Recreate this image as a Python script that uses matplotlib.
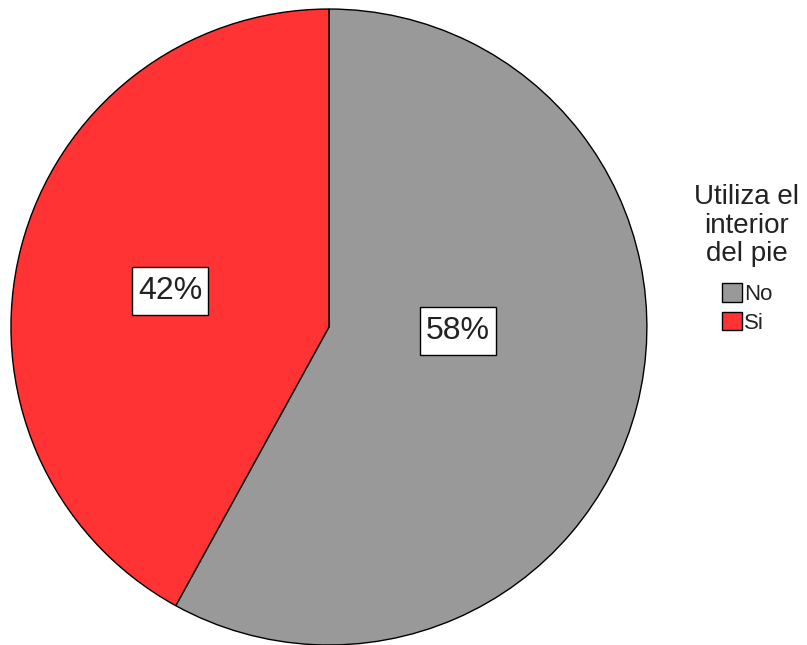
import matplotlib
matplotlib.use("Agg")
import matplotlib.pyplot as plt
from matplotlib.path import Path

plt.rcParams['font.family'] = ['Liberation Sans', 'DejaVu Sans']

categories = ["No", "Si"]
values = [58, 42]
colors = ["#999999", "#ff3333"]
legend_title = "Utiliza el\ninterior\ndel pie"


def label_box(x0, y0, width, height, mutation_size):
    # plain rectangle, more room above/below than at the sides
    px, py = 6, 9
    x0, y0 = x0 - px, y0 - py
    x1, y1 = x0 + width + 2 * px, y0 + height + 2 * py
    return Path([(x0, y0), (x1, y0), (x1, y1), (x0, y1), (x0, y0)], closed=True)


fig = plt.figure(figsize=(8.07, 6.45), dpi=100)
ax = fig.add_axes([0.0136, 0.0, 0.788, 0.986])

wedges, texts, autotexts = ax.pie(
    values, colors=colors, startangle=90, counterclock=False,
    autopct="%d%%", pctdistance=0.45,
    wedgeprops=dict(edgecolor="black", linewidth=1.0),
    textprops=dict(fontsize=23, color="#222222"),
)
ax.set_aspect("auto")
ax.set_xlim(-1, 1)
ax.set_ylim(-1, 1)

# nudge the percent labels to where the original puts them
label_pos = [(0.406, -0.013), (-0.50, 0.112)]
for t, (x, y) in zip(autotexts, label_pos):
    t.set_position((x, y))
    t.set_bbox(dict(facecolor="white", edgecolor="black", linewidth=1.0, boxstyle=label_box))

leg = fig.legend(
    wedges, categories, title=legend_title, frameon=False,
    loc="upper center", bbox_to_anchor=(747 / 807, 1 - 173 / 645),
    fontsize=16, title_fontsize=20,
    handlelength=0.9, handleheight=0.9, handletextpad=0.1,
    labelspacing=0.3, borderpad=0.0,
)
leg._legend_box.sep = 11.5  # extra gap between title and entries
leg.get_title().set_multialignment("center")
leg.get_title().set_linespacing(1.13)
leg.get_title().set_color("#222222")
for t in leg.get_texts():
    t.set_color("#222222")
for h in leg.legend_handles:
    h.set_edgecolor("black")

fig.savefig("out.png", dpi=100)
